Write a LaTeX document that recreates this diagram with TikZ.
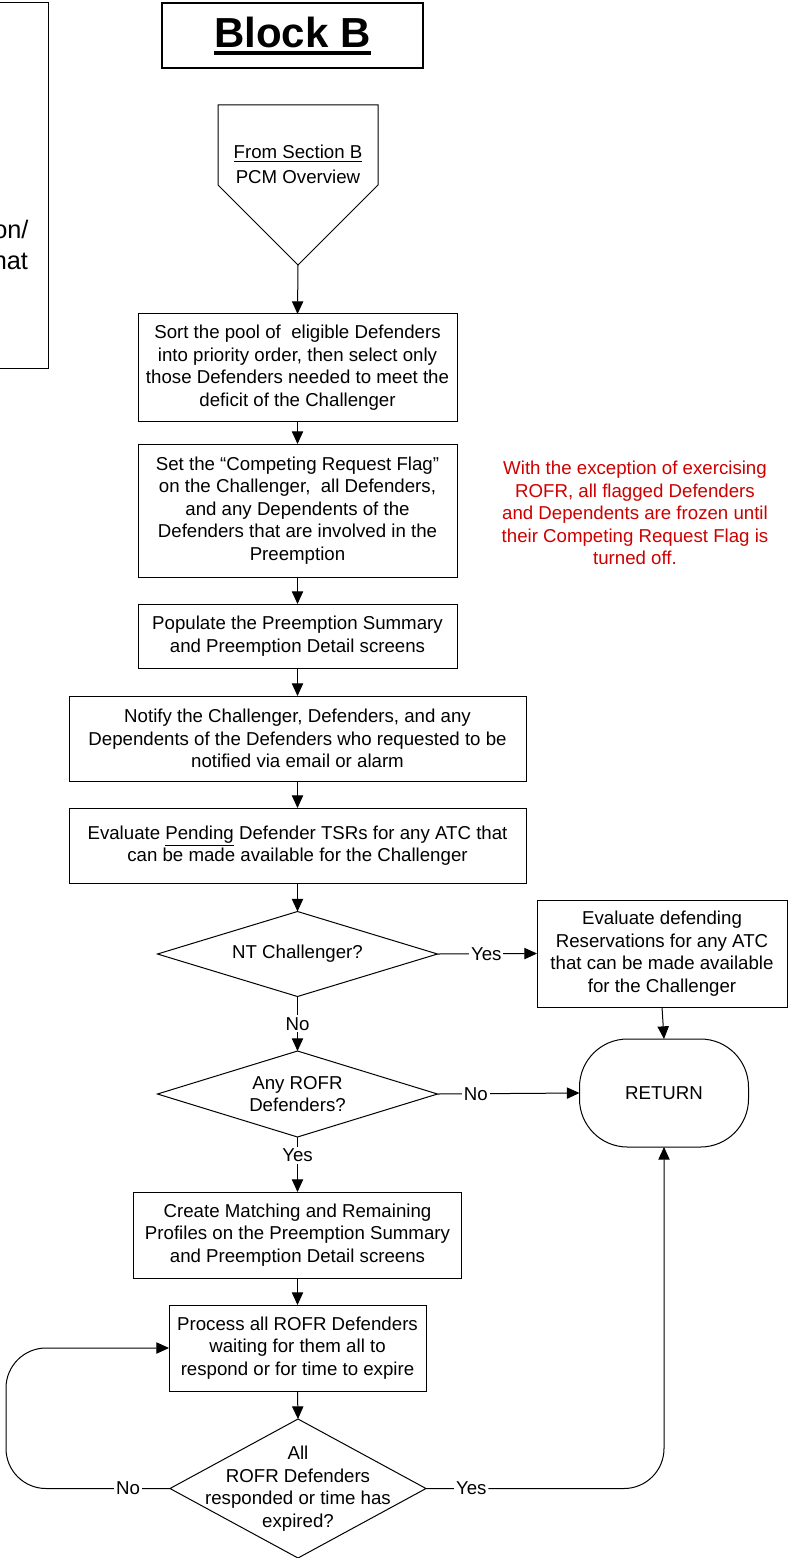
\documentclass[tikz,border=0pt]{standalone}
\usepackage{fontspec}
\setmainfont{Liberation Sans}
\usetikzlibrary{arrows.meta,shapes.geometric}
\definecolor{notered}{RGB}{204,0,0}
\begin{document}
\begin{tikzpicture}[x=0.75pt,y=-0.75pt,
  every node/.style={inner sep=0pt, outer sep=0pt},
  txt/.style={font=\fontsize{14}{16.9}\selectfont, align=center},
  sz/.style 2 args={minimum width=#1*0.75pt, minimum height=#2*0.75pt},
  box/.style={draw, line width=0.75pt, txt},
  dia/.style={draw, diamond, line width=0.75pt},
  ln/.style={line width=0.75pt},
  arr/.style={line width=0.75pt, -{Triangle[length=9.5pt,width=8.5pt]}},
  lbl/.style={txt, fill=white, inner sep=1.5pt}]
\useasboundingbox (0,0) rectangle (793,1558);

% partial box on the left
\node[draw, line width=0.75pt, sz={80}{365}] (side) at (8,185.5) {};
\node[anchor=east, font=\fontsize{19}{24}\selectfont] (s1) at (28.5,229) {on/};
\node[anchor=east, font=\fontsize{19}{24}\selectfont] (s2) at (28,260) {hat};

% title
\node[draw, line width=0.9pt, sz={261}{65}] (bb) at (292.5,35.5) {};
\node[anchor=base, font=\fontsize{31.5}{36}\selectfont\bfseries] (bbt) at (292.5,47.5) {Block B};
\draw[line width=3pt] ([yshift=-4.1pt]bbt.base west) -- ([yshift=-4.1pt]bbt.base east);

% off-page connector
\draw[ln] (218,105) -- (378,105) -- (378,185) -- (298,265) -- (218,185) -- cycle;
\coordinate (ptip) at (298,265);
\node[txt, anchor=base] (p1) at (298,159) {\underline{From Section B}};
\node[txt, anchor=base] (p2) at (298,183.5) {PCM Overview};

% boxes
\node[box, sz={319}{107}] (b1) at (297.5,367.5) {Sort the pool of~ eligible Defenders\\into priority order, then select only\\those Defenders needed to meet the\\deficit of the Challenger};
\node[box, sz={319}{133}] (b2) at (297.5,510.5) {Set the “Competing Request Flag”\\on the Challenger,~ all Defenders,\\and any Dependents of the\\Defenders that are involved in the\\Preemption};
\node[box, sz={319}{64}] (b3) at (297.5,636) {Populate the Preemption Summary\\and Preemption Detail screens};
\node[box, sz={457}{85}] (b4) at (297.5,738.5) {Notify the Challenger, Defenders, and any\\Dependents of the Defenders who requested to be\\notified via email or alarm};
\node[box, sz={457}{75}] (b5) at (297.5,845.5) {Evaluate \underline{Pending} Defender TSRs for any ATC that\\can be made available for the Challenger};

\node[txt, text=notered] (note) at (635,513) {With the exception of exercising\\ROFR, all flagged Defenders\\and Dependents are frozen until\\their Competing Request Flag is\\turned off.};

\node[dia, sz={280}{85}] (d1) at (297.5,954) {};
\node[txt] (d1t) at (d1) {NT Challenger?};
\node[box, sz={250}{107}] (b6) at (662,953.5) {Evaluate defending\\Reservations for any ATC\\that can be made available\\for the Challenger};
\node[draw, line width=0.75pt, rounded corners=36pt, sz={169}{108}, txt] (ret) at (664,1093) {RETURN};

\node[dia, sz={280}{86}] (d2) at (297.5,1094) {};
\node[txt] (d2t) at (d2) {Any ROFR\\Defenders?};

\node[box, sz={328}{86}] (b7) at (297.5,1235) {Create Matching and Remaining\\Profiles on the Preemption Summary\\and Preemption Detail screens};
\node[box, sz={257}{86}] (b8) at (297.5,1348) {Process all ROFR Defenders\\waiting for them all to\\respond or for time to expire};
\node[dia, sz={256}{139}] (d3) at (298,1488.5) {};
\node[txt] (d3t) at (d3) {All\\ROFR Defenders\\responded or time has\\expired?};

\coordinate (lx) at (6,0);

% connectors
\draw[arr] (ptip) -- (b1.north);
\draw[arr] (b1.south) -- (b2.north);
\draw[arr] (b2.south) -- (b3.north);
\draw[arr] (b3.south) -- (b4.north);
\draw[arr] (b4.south) -- (b5.north);
\draw[arr] (b5.south) -- (d1.north);
\draw[arr] (d1.east) -- node[lbl, pos=0.49] {Yes} (b6.west);
\draw[arr] (b6.south) -- (ret.north);
\draw[arr] (d1.south) -- node[lbl, pos=0.5] {No} (d2.north);
\draw[arr] (d2.east) -- node[lbl, pos=0.27] {No} (ret.west);
\draw[arr] (d2.south) -- node[lbl, pos=0.33] {Yes} (b7.north);
\draw[arr] (b7.south) -- (b8.north);
\draw[arr] (b8.south) -- (d3.north);
\draw[arr, rounded corners=30pt] (d3.west) -- node[lbl, pos=0.256] {No} (d3.west -| lx) -- (b8.west -| lx) -- (b8.west);
\draw[arr, rounded corners=30pt] (d3.east) -- node[lbl, pos=0.19] {Yes} (d3.east -| ret.south) -- (ret.south);
\end{tikzpicture}
\end{document}
